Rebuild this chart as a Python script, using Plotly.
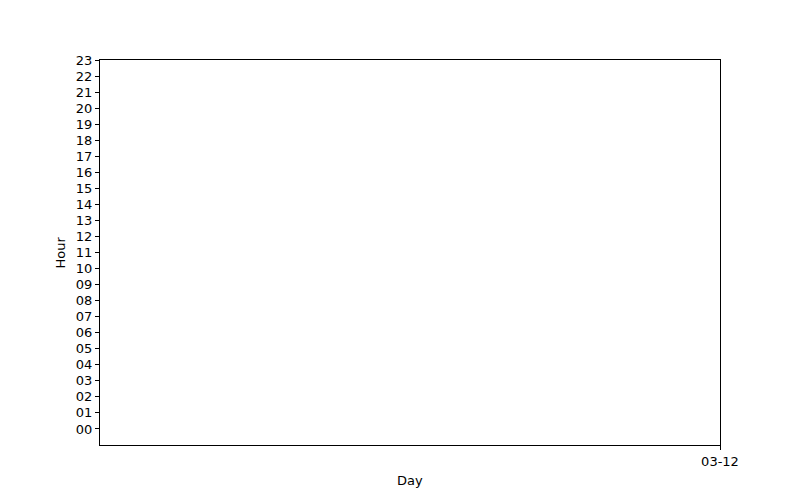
import plotly.graph_objects as go

days = ["03-12"]
day_positions = [1]
hours = list(range(24))
hour_labels = [f"{h:02d}" for h in hours]
# no observations in the reference chart
obs_x = []
obs_y = []

fig = go.Figure()
fig.add_trace(go.Scatter(x=obs_x, y=obs_y, mode="markers", showlegend=False))

font = dict(family="DejaVu Sans", size=13, color="black")

fig.update_layout(
    width=800, height=500,
    margin=dict(l=100, r=80, t=60, b=55),
    paper_bgcolor="white", plot_bgcolor="white",
    font=font,
    showlegend=False,
)
fig.update_xaxes(
    range=[0, 1], tickmode="array", tickvals=day_positions, ticktext=days,
    showgrid=False, zeroline=False, showline=True, mirror=True,
    linecolor="black", linewidth=1, ticks="outside", ticklen=4,
    tickcolor="black", tickfont=font,
)
fig.update_yaxes(
    range=[-1, 23], tickmode="array", tickvals=hours, ticktext=hour_labels,
    showgrid=False, zeroline=False, showline=True, mirror=True,
    linecolor="black", linewidth=1, ticks="outside", ticklen=4,
    tickcolor="black", tickfont=font,
)
fig.add_annotation(text="Day", xref="paper", yref="paper", x=0.5, y=0,
                   yshift=-35, showarrow=False, font=font, yanchor="middle")
fig.add_annotation(text="Hour", xref="paper", yref="paper", x=0, y=0.5,
                   xshift=-40, showarrow=False, font=font, textangle=-90,
                   xanchor="center")
fig.write_html("out.html")
